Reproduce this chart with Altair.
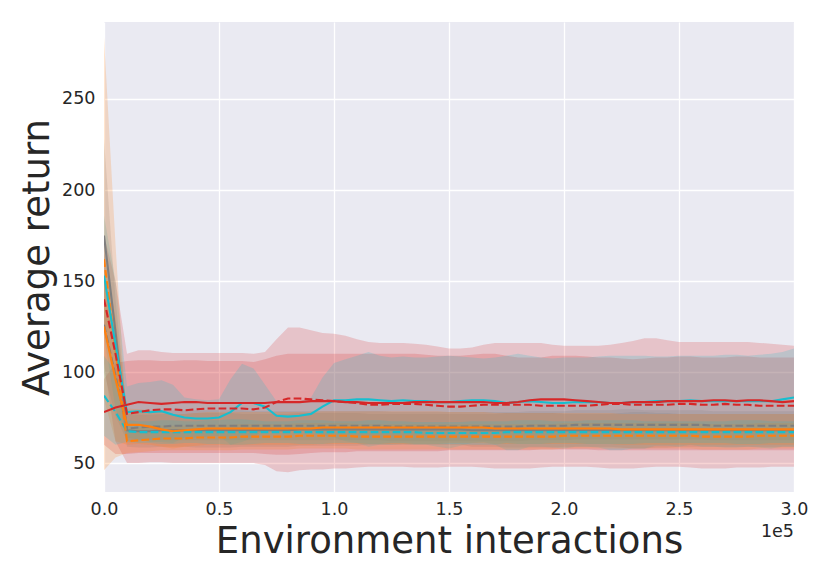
import altair as alt
import pandas as pd

# x positions in units of 1e5 environment interactions
X = [0.0, 0.05, 0.1, 0.15, 0.2, 0.25, 0.3, 0.35, 0.4, 0.45,
     0.5, 0.55, 0.6, 0.65, 0.7, 0.75, 0.8, 0.85, 0.9, 0.95,
     1.0, 1.05, 1.1, 1.15, 1.2, 1.25, 1.3, 1.35, 1.4, 1.45,
     1.5, 1.55, 1.6, 1.65, 1.7, 1.75, 1.8, 1.85, 1.9, 1.95,
     2.0, 2.05, 2.1, 2.15, 2.2, 2.25, 2.3, 2.35, 2.4, 2.45,
     2.5, 2.55, 2.6, 2.65, 2.7, 2.75, 2.8, 2.85, 2.9, 2.95,
     3.0]

red_solid = [78, 80.5, 82, 83.5, 83, 82.5, 83, 83.5, 83.5, 83,
             83, 83, 83, 83, 83, 83.5, 83.5, 83.5, 84, 84,
             84, 83.5, 83.5, 83, 83, 83, 83, 83.5, 83.5, 83.5,
             83.5, 83.5, 83.5, 83.5, 83, 83, 83.5, 84.5, 85, 85,
             85, 84.5, 84, 83.5, 83, 83, 83.5, 83.5, 83.5, 84,
             84, 84, 84, 84.5, 84.5, 84, 84.5, 84.5, 84, 83.5,
             84]
red_solid_hi = [96, 105, 106, 106.5, 106.5, 106, 106, 106.5, 106.5, 106,
                106, 106, 106, 105.5, 107, 109, 110, 110, 110, 110,
                110, 110, 110, 110, 110, 110, 110, 110, 109.5, 109,
                109, 109, 109.5, 110, 110, 109, 108, 108, 108, 109,
                109, 109, 108.5, 108, 108, 107.5, 107, 107.5, 108, 108,
                108.5, 108.5, 108, 108, 108, 108.5, 108.5, 108, 108, 108,
                108]
red_solid_lo = [60, 55, 55, 55.5, 55.5, 55.5, 55.5, 55.5, 55.5, 55.5,
                55.5, 55.5, 55.5, 55.5, 55, 54.5, 54.5, 55, 55.5, 56,
                56, 56, 56.5, 56.5, 56.5, 56.5, 56.5, 56.5, 56.5, 56.5,
                57, 57, 57, 57, 57, 57, 57, 57, 57.5, 57.5,
                57.5, 57.5, 57.5, 57, 57, 57, 57, 57, 57, 57,
                57, 57, 57, 57, 57, 57, 57, 57, 57, 57,
                57]

red_dashed = [140, 110, 77, 78, 79, 79.5, 79.5, 79, 79.5, 80,
              80, 80, 80, 79.5, 80.5, 83.5, 85.5, 85.5, 85, 84.5,
              84, 83.5, 83, 82, 82, 82.5, 82.5, 82.5, 82, 81.5,
              81, 81, 81.5, 82, 82, 82, 82, 82, 81.5, 81.5,
              81.5, 81.5, 81.5, 82, 82.5, 82.5, 82, 82, 82, 82,
              82.5, 82.5, 82, 82, 82.5, 82, 82, 81.5, 81.5, 81.5,
              81.5]
red_dashed_hi = [175, 150, 110, 112, 112, 111, 110.5, 110.5, 110.5, 110.5,
                 110.5, 110.5, 110.5, 110, 111, 118, 124.5, 124.5, 123, 121.5,
                 121, 120, 118, 116.5, 116, 116, 116, 115.5, 115, 114,
                 113, 113, 113.5, 115, 116, 116, 116, 116, 116, 115,
                 114.5, 114.5, 114.5, 114.5, 115, 116, 117, 118.5, 118.5, 117.5,
                 116.5, 116.5, 116.5, 116.5, 116.5, 116.5, 116.5, 116, 115.5, 115,
                 114.5]
red_dashed_lo = [105, 62, 50, 50, 50.5, 50.5, 50, 50, 50, 50,
                 50, 50, 50, 50, 49, 45.5, 45, 46, 46.5, 46.5,
                 47, 47, 47.5, 48, 48, 48, 48, 47.5, 47.5, 47.5,
                 48, 48, 48, 47.5, 47, 47, 47, 47, 47.5, 48,
                 48, 48, 48, 47.5, 47, 47, 47, 47.5, 48, 48,
                 48, 47.5, 47, 47, 47, 47.5, 47.5, 47.5, 48, 48,
                 48]

cyan_solid = [153, 115, 78, 78.5, 78, 78.5, 76.5, 75, 74.5, 74.5,
              75, 78, 83, 83, 81, 76, 75.5, 76, 77, 81,
              84.5, 84.5, 85, 85, 84.5, 84, 84.5, 84, 84, 83.5,
              83.5, 84, 84.5, 84.5, 84, 83, 83.5, 84, 83.5, 83,
              83, 83.5, 83.5, 83.5, 83, 83, 83.5, 83.5, 84, 84,
              84, 84.5, 84, 84, 84, 84, 84, 84, 84, 85,
              86]
cyan_solid_hi = [186, 150, 92, 94, 94.5, 95.5, 93, 86, 85, 84.5,
                 85, 96, 104.5, 102, 93, 84, 83, 84, 86, 97,
                 105, 107, 109, 111, 109, 108, 108.5, 108, 108, 108.5,
                 109, 108.5, 108, 107.5, 108, 109, 110, 109, 108, 107.5,
                 108, 108, 108, 108.5, 109, 109, 109, 109, 108.5, 108.5,
                 109, 109, 109, 109, 109.5, 109.5, 109, 109.5, 110, 111,
                 113]
cyan_solid_lo = [120, 80, 64, 63, 61.5, 61.5, 61, 64, 64, 64.5,
                 65, 60, 61.5, 64, 69, 68, 68, 68, 68, 65,
                 64, 62, 61, 59, 60, 60, 60.5, 60, 60, 59,
                 58, 59.5, 61, 61.5, 60, 57, 57, 59, 59, 58.5,
                 58, 59, 59, 58.5, 57, 57, 58, 58, 59.5, 59.5,
                 59, 60, 59, 59, 58.5, 58.5, 59, 58.5, 58, 59,
                 59]

cyan_dashed = [87, 78, 67.5, 67, 67, 67, 67, 67, 67, 67,
               67, 67, 67, 67, 67, 67, 67, 67, 67, 67,
               67, 67, 67, 67, 67, 67, 67, 67, 66.5, 66.5,
               66.5, 66.5, 66.5, 66.5, 66.5, 67, 67, 67, 67, 67,
               67, 67, 67, 67, 67, 67, 67, 67, 67, 67,
               67, 67, 67, 67, 67, 67, 67, 67, 67, 67,
               67]
cyan_dashed_hi = [109, 100, 73.5, 73, 73, 73.5, 73.5, 73, 73, 73.5,
                  73.5, 74, 74, 73.5, 73, 73, 73, 73.5, 73.5, 73.5,
                  73, 73, 73, 73.5, 73.5, 73, 73, 72.5, 72.5, 72.5,
                  72.5, 72.5, 73, 73, 73, 73, 73.5, 73.5, 73.5, 73,
                  73, 73, 73.5, 73.5, 73.5, 73.5, 73.5, 73, 73, 73,
                  73, 73, 73, 73, 73, 73.5, 73.5, 73.5, 73, 73,
                  73]
cyan_dashed_lo = [65, 60, 61.5, 61, 61, 60.5, 60.5, 61, 61, 60.5,
                  60.5, 60, 60, 60.5, 61, 61, 61, 60.5, 60.5, 60.5,
                  61, 61, 61, 60.5, 60.5, 61, 61, 60.5, 60.5, 60.5,
                  60.5, 60.5, 60, 60, 60, 61, 60.5, 60.5, 60.5, 61,
                  61, 61, 60.5, 60.5, 60.5, 60.5, 60.5, 61, 61, 61,
                  61, 61, 61, 61, 61, 60.5, 60.5, 60.5, 61, 61,
                  61]

orange_solid = [125, 96, 71, 71, 70, 68.5, 67.5, 68, 68.5, 69,
                69, 69, 69, 69, 69, 69, 69, 69, 69, 69.5,
                69.5, 69.5, 69.5, 69.5, 69.5, 69.5, 69.5, 69.5, 69.5, 69.5,
                69.5, 69.5, 69.5, 69.5, 69, 69, 69, 69, 69, 69,
                69, 69, 69, 69, 69, 68.5, 68.5, 68.5, 68.5, 68.5,
                68.5, 68.5, 68.5, 68.5, 68.5, 68.5, 68.5, 68.5, 68.5, 68.5,
                68.5]
orange_solid_hi = [165, 130, 80, 79.5, 79, 78, 77, 77, 77.5, 78,
                   78, 78, 78, 78, 78, 78, 78, 78, 78, 78.5,
                   78.5, 78.5, 78.5, 78.5, 78.5, 78.5, 78.5, 78.5, 78.5, 78.5,
                   78, 78, 78, 78, 77.5, 77.5, 77.5, 77.5, 77.5, 77.5,
                   77.5, 77.5, 77.5, 77.5, 77.5, 77, 77, 77, 77, 77,
                   77, 77, 77, 77, 77, 77, 77, 77, 77, 77,
                   77]
orange_solid_lo = [85, 62, 60, 60.5, 60, 59, 58, 59, 59.5, 60,
                   60, 60, 60, 60, 60, 60, 60, 60, 60, 60.5,
                   60.5, 60.5, 60.5, 60.5, 60.5, 60.5, 60.5, 60.5, 60.5, 60.5,
                   61, 61, 61, 61, 60.5, 60.5, 60.5, 60.5, 60.5, 60.5,
                   60.5, 60.5, 60.5, 60.5, 60.5, 60, 60, 60, 60, 60,
                   60, 60, 60, 60, 60, 60, 60, 60, 60, 60,
                   60]

orange_dashed = [162, 112, 62, 62.5, 63, 63.5, 63.5, 63.5, 64, 64,
                 64, 64, 64.5, 64.5, 64.5, 64.5, 64.5, 65, 65, 65,
                 65, 65, 64.5, 64.5, 64.5, 64.5, 64.5, 64.5, 64.5, 64.5,
                 64.5, 64.5, 64.5, 64.5, 64.5, 64.5, 64.5, 64.5, 64.5, 64.5,
                 65, 65, 65, 65, 65, 65, 65, 65, 65, 65,
                 65, 65, 64.5, 64.5, 64.5, 64.5, 64.5, 65, 65, 65,
                 65]
orange_dashed_hi = [284, 170, 69, 69.5, 70, 70.5, 70.5, 70.5, 71, 71,
                    71, 71, 71.5, 71.5, 71.5, 71.5, 71.5, 72, 72, 72,
                    72, 72, 71.5, 71.5, 71.5, 71.5, 71.5, 71.5, 71.5, 71.5,
                    71.5, 71.5, 71.5, 71.5, 71.5, 71.5, 71.5, 71.5, 71.5, 71.5,
                    72, 72, 72, 72, 72, 72, 72, 72, 72, 72,
                    72, 72, 71.5, 71.5, 71.5, 71.5, 71.5, 72, 72, 72,
                    72]
orange_dashed_lo = [46, 53, 55.5, 56, 56.5, 57, 57, 57, 57, 57,
                    57, 57, 57.5, 57.5, 57.5, 57.5, 57.5, 58, 58, 58,
                    58, 58, 57.5, 57.5, 57.5, 57.5, 57.5, 57.5, 57.5, 57.5,
                    57.5, 57.5, 57.5, 57.5, 57.5, 57.5, 57.5, 57.5, 57.5, 57.5,
                    58, 58, 58, 58, 58, 58, 58, 58, 58, 58,
                    58, 58, 57.5, 57.5, 57.5, 57.5, 57.5, 58, 58, 58,
                    58]

gray_solid = [175, 122, 68, 67.5, 67.5, 68, 68, 68, 68, 68,
              68, 68, 68, 68, 68, 68, 68, 68.5, 68.5, 68.5,
              68.5, 68.5, 68.5, 68.5, 68.5, 68.5, 68.5, 68.5, 68.5, 68.5,
              68.5, 68.5, 68, 68, 68, 68, 68, 68, 68, 68,
              68, 68, 68, 68, 68, 68, 68, 68, 68, 68,
              68, 68, 68, 68, 68, 68, 68, 68, 68, 68,
              68]
gray_solid_hi = [228, 140, 77, 76.5, 76.5, 77, 77, 77, 77.5, 77.5,
                 77.5, 77.5, 77, 77, 77, 77, 77, 77.5, 77.5, 77.5,
                 77.5, 77.5, 77.5, 77, 77, 77, 77, 77, 77, 77,
                 77, 77, 77, 77, 77, 77.5, 77.5, 77.5, 77.5, 77.5,
                 77, 77, 77, 77, 77, 77.5, 78, 78, 77.5, 77.5,
                 77, 77, 77, 77, 77, 77, 77, 77, 77, 77,
                 77]
gray_solid_lo = [122, 100, 59, 58.5, 58.5, 59, 59, 59, 58.5, 58.5,
                 58.5, 58.5, 59, 59, 59, 59, 59, 59.5, 59.5, 59.5,
                 59.5, 59.5, 59.5, 60, 60, 60, 60, 60, 60, 60,
                 60, 60, 59, 59, 59, 58.5, 58.5, 58.5, 58.5, 58.5,
                 59, 59, 59, 59, 59, 58.5, 58, 58, 58.5, 58.5,
                 59, 59, 59, 59, 59, 59, 59, 59, 59, 59,
                 59]

gray_dashed = [126, 98, 69, 69.5, 70, 70, 70.5, 70.5, 70.5, 70.5,
               70.5, 70.5, 70.5, 70.5, 70.5, 70.5, 70.5, 70.5, 70.5, 70.5,
               70.5, 70.5, 70.5, 70.5, 70.5, 70, 70, 70, 70, 70,
               70, 70, 70, 70, 70, 70, 70, 70.5, 70.5, 70.5,
               70.5, 71, 71, 71, 71, 71, 71, 71, 71, 71,
               71, 71, 71, 70.5, 70.5, 70.5, 70.5, 70.5, 70.5, 70.5,
               70.5]
gray_dashed_hi = [152, 120, 78, 78, 78.5, 78.5, 79, 79, 79, 79,
                  79, 79, 79, 78.5, 78.5, 78.5, 78.5, 78.5, 78.5, 78.5,
                  78.5, 78.5, 78.5, 78.5, 78.5, 78, 78, 78, 78, 78,
                  78, 78, 78, 78, 78, 78, 78, 78.5, 78.5, 78.5,
                  78.5, 79, 79, 79, 79, 79.5, 79.5, 79, 79, 79,
                  79, 79, 79, 78.5, 78.5, 78.5, 78.5, 78.5, 78.5, 78.5,
                  78.5]
gray_dashed_lo = [100, 76, 62, 62, 62.5, 62.5, 62.5, 62.5, 62.5, 62.5,
                  62.5, 62.5, 62.5, 62.5, 62.5, 62.5, 62.5, 62.5, 62.5, 62.5,
                  62.5, 62.5, 62.5, 62.5, 62.5, 62, 62, 62, 62, 62,
                  62, 62, 62, 62, 62, 62, 62, 62.5, 62.5, 62.5,
                  62.5, 63, 63, 63, 63, 63, 63, 63, 63, 63,
                  63, 63, 63, 62.5, 62.5, 62.5, 62.5, 62.5, 62.5, 62.5,
                  62.5]

SERIES = {
    "red_solid": (red_solid, red_solid_lo, red_solid_hi, "#d62728", False),
    "red_dashed": (red_dashed, red_dashed_lo, red_dashed_hi, "#d62728", True),
    "cyan_solid": (cyan_solid, cyan_solid_lo, cyan_solid_hi, "#17becf", False),
    "cyan_dashed": (cyan_dashed, cyan_dashed_lo, cyan_dashed_hi, "#17becf", True),
    "orange_solid": (orange_solid, orange_solid_lo, orange_solid_hi, "#ff7f0e", False),
    "orange_dashed": (orange_dashed, orange_dashed_lo, orange_dashed_hi, "#ff7f0e", True),
    "gray_solid": (gray_solid, gray_solid_lo, gray_solid_hi, "#7f7f7f", False),
    "gray_dashed": (gray_dashed, gray_dashed_lo, gray_dashed_hi, "#7f7f7f", True),
}

frames = []
for name, (m, lo, hi, col, dashed) in SERIES.items():
    frames.append(pd.DataFrame({"x": X, "y": m, "lo": lo, "hi": hi, "series": name}))
df = pd.concat(frames, ignore_index=True)

FONT = "DejaVu Sans"
TXT = "#262626"
LABEL_SIZE = 17.5
TITLE_SIZE = 37

xscale = alt.Scale(domain=[0, 3], nice=False, zero=False)
yscale = alt.Scale(domain=[34.1, 292.3], nice=False, zero=False)
xaxis = alt.Axis(values=[0, 0.5, 1.0, 1.5, 2.0, 2.5, 3.0], format=".1f",
                 title="Environment interactions", labelFlush=False,
                 labelPadding=8, labelFontSize=LABEL_SIZE,
                 titleFontSize=TITLE_SIZE, titleX=345, titleY=60,
                 titleBaseline="alphabetic", titleAlign="center")
yaxis = alt.Axis(values=[50, 100, 150, 200, 250], title="Average return",
                 labelPadding=9, labelFontSize=LABEL_SIZE,
                 titleFontSize=TITLE_SIZE, titleX=-56, titleY=235, titleAngle=270,
                 titleBaseline="alphabetic", titleAlign="center")

band_order = ["red_dashed", "red_solid", "cyan_solid", "gray_solid",
              "gray_dashed", "orange_solid", "orange_dashed", "cyan_dashed"]
line_order = ["gray_solid", "gray_dashed", "cyan_dashed", "orange_dashed",
              "orange_solid", "cyan_solid", "red_dashed", "red_solid"]

layers = []
for name in band_order:
    col = SERIES[name][3]
    layers.append(
        alt.Chart(df).transform_filter(alt.datum.series == name)
        .mark_area(color=col, opacity=0.2, clip=True)
        .encode(x=alt.X("x:Q", scale=xscale, axis=xaxis),
                y=alt.Y("lo:Q", scale=yscale, axis=yaxis),
                y2="hi:Q")
    )
for name in line_order:
    col = SERIES[name][3]
    dashed = SERIES[name][4]
    if dashed:
        line = alt.Chart(df).transform_filter(alt.datum.series == name).mark_line(
            color=col, strokeWidth=2.1, strokeDash=[7.7, 3.3], clip=True)
    else:
        line = alt.Chart(df).transform_filter(alt.datum.series == name).mark_line(
            color=col, strokeWidth=2.1, clip=True)
    layers.append(
        line.encode(x=alt.X("x:Q", scale=xscale, axis=xaxis),
                    y=alt.Y("y:Q", scale=yscale, axis=yaxis))
    )

offset = alt.Chart(pd.DataFrame({"t": ["1e5"]})).mark_text(
    align="right", baseline="alphabetic", fontSize=LABEL_SIZE, font=FONT, color=TXT
).encode(x=alt.value(690), y=alt.value(515), text="t:N")
layers.append(offset)

chart = alt.layer(*layers).properties(
    width=690, height=470,
    padding={"left": 96, "top": 14, "right": 28, "bottom": 81},
    autosize=alt.AutoSizeParams(type="none"),
).configure_view(
    fill="#EAEAF2", strokeWidth=0
).configure_axis(
    grid=True, gridColor="white", gridWidth=1.3, domain=False, ticks=False, tickSize=0,
    labelFont=FONT, labelFontSize=LABEL_SIZE, labelColor=TXT,
    titleFont=FONT, titleFontSize=TITLE_SIZE, titleFontWeight="normal", titleColor=TXT,
)

chart.save("out.html", embed_options={"renderer": "svg", "actions": False})
